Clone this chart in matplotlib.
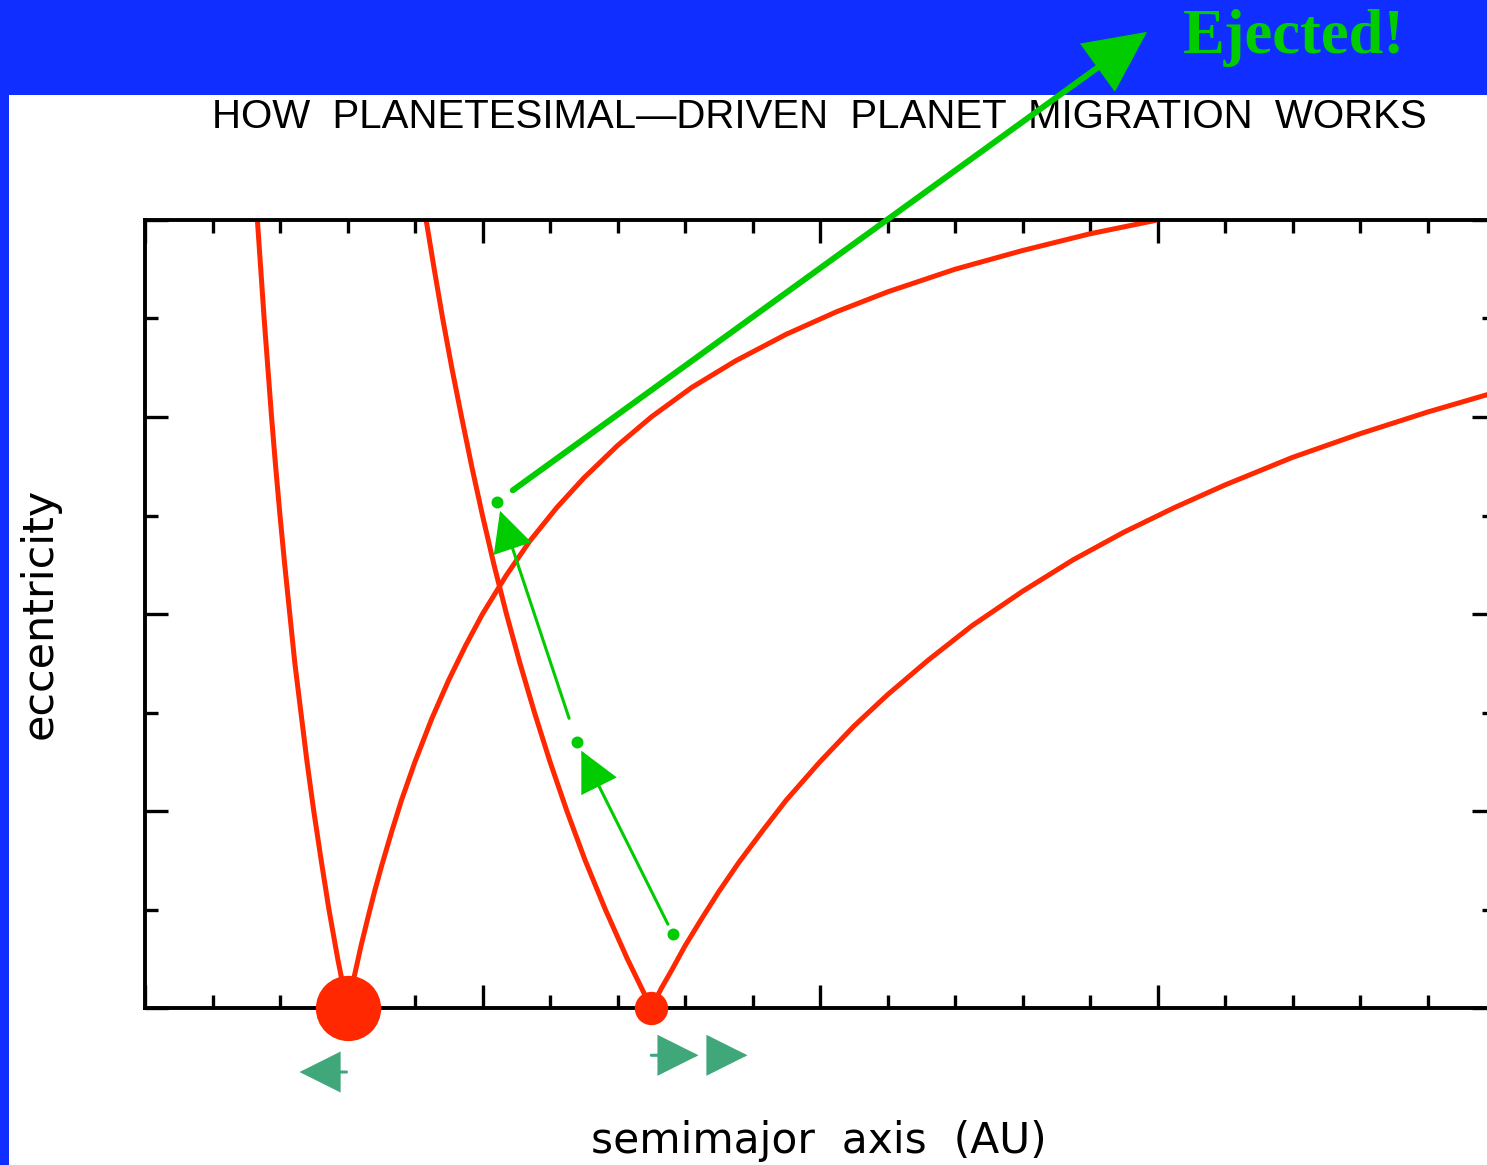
import numpy as np
import matplotlib
matplotlib.use("Agg")
import matplotlib.pyplot as plt
from matplotlib.patches import Rectangle

# semimajor axes of the two planets (plot units) and marker sizes
planet_a = [0.6, 1.5]
planet_ms = [47, 24]

# constant-aphelion / constant-perihelion curves
p1_in_e = [0.0, 0.05, 0.1, 0.15, 0.2, 0.25, 0.3, 0.35, 0.4,
           0.45, 0.5, 0.55, 0.6, 0.65, 0.7, 0.75, 0.8]
p1_in_a = [0.600, 0.571, 0.545, 0.522, 0.500, 0.480, 0.462, 0.444, 0.429,
           0.414, 0.400, 0.387, 0.375, 0.364, 0.353, 0.343, 0.333]
p1_out_a = [0.60, 0.61, 0.62, 0.64, 0.66, 0.68, 0.70, 0.73, 0.76, 0.80,
            0.85, 0.90, 0.95, 1.00, 1.07, 1.14, 1.22, 1.30, 1.40, 1.50,
            1.62, 1.75, 1.90, 2.05, 2.20, 2.40, 2.60, 2.80, 3.00]
p1_out_e = [0.0, 0.016, 0.032, 0.063, 0.091, 0.118, 0.143, 0.178, 0.211, 0.250,
            0.294, 0.333, 0.368, 0.400, 0.439, 0.474, 0.508, 0.538, 0.571, 0.600,
            0.630, 0.657, 0.684, 0.707, 0.727, 0.750, 0.769, 0.786, 0.800]
p2_in_e = [0.0, 0.05, 0.1, 0.15, 0.2, 0.25, 0.3, 0.35, 0.4,
           0.45, 0.5, 0.55, 0.6, 0.65, 0.7, 0.75, 0.8]
p2_in_a = [1.500, 1.429, 1.364, 1.304, 1.250, 1.200, 1.154, 1.111, 1.071,
           1.034, 1.000, 0.968, 0.938, 0.909, 0.882, 0.857, 0.833]
p2_out_a = [1.50, 1.53, 1.56, 1.60, 1.65, 1.70, 1.76, 1.83, 1.90, 2.00,
            2.10, 2.20, 2.32, 2.45, 2.60, 2.75, 2.90, 3.05, 3.20, 3.40,
            3.60, 3.80, 4.00]
p2_out_e = [0.0, 0.020, 0.038, 0.063, 0.091, 0.118, 0.148, 0.180, 0.211, 0.250,
            0.286, 0.318, 0.353, 0.388, 0.423, 0.455, 0.483, 0.508, 0.531, 0.559,
            0.583, 0.605, 0.625]

# planetesimal track and where it gets thrown to
track_a = [1.564, 1.280, 1.043]
track_e = [0.075, 0.270, 0.514]
eject_a, eject_e = 2.969, 0.991

title = "HOW  PLANETESIMAL\u2014DRIVEN  PLANET  MIGRATION  WORKS"

red = "#FF2800"
green = "#00CC00"
teal = "#3FA77A"
blue = "#0F2EFF"

W, H = 1487, 1165
fig = plt.figure(figsize=(W / 100, H / 100), dpi=100, facecolor=blue)
fig.patches.append(Rectangle((9 / W, 0), 1 - 9 / W, (H - 95) / H,
                             transform=fig.transFigure, facecolor="white",
                             edgecolor="none", zorder=-1))

ax = fig.add_axes([145 / W, (H - 1008) / H, 1350 / W, 788 / H])
ax.set_zorder(1)
ax.set_xlim(0, 4)
ax.set_ylim(0, 0.8)
ax.set_xticks(np.arange(0, 4.01, 1))
ax.set_xticks(np.arange(0, 4.01, 0.2), minor=True)
ax.set_yticks(np.arange(0, 0.81, 0.2))
ax.set_yticks(np.arange(0, 0.81, 0.1), minor=True)
ax.tick_params(which="both", direction="in", top=True, right=True,
               labelbottom=False, labelleft=False, width=2.4, color="black")
ax.tick_params(which="major", length=16.5)
ax.tick_params(which="minor", length=9.4)
for s in ax.spines.values():
    s.set_linewidth(2.8)

for xa, ye in [(p1_in_a, p1_in_e), (p1_out_a, p1_out_e),
               (p2_in_a, p2_in_e), (p2_out_a, p2_out_e)]:
    ax.plot(xa, ye, color=red, lw=3.6, solid_capstyle="butt",
            solid_joinstyle="round", zorder=2)

for a, ms in zip(planet_a, planet_ms):
    ax.plot([a], [0], marker="o", color=red, ms=ms, mec="none",
            clip_on=False, zorder=4)

# planetesimal dots and kicks
ax.plot(track_a, track_e, ls="none", marker="o", ms=8.6, color=green,
        mec="none", zorder=5)
thin = dict(arrowstyle="-|>,head_length=25,head_width=12.5", mutation_scale=1,
            color=green, lw=2.2, joinstyle="miter")
ax.annotate("", xy=(track_a[1], track_e[1]), xytext=(track_a[0], track_e[0]),
            arrowprops=dict(thin, shrinkA=8, shrinkB=7), zorder=5)
ax.annotate("", xy=(track_a[2], track_e[2]), xytext=(track_a[1], track_e[1]),
            arrowprops=dict(thin, shrinkA=18, shrinkB=7), zorder=5)
ax.annotate("", xy=(eject_a, eject_e), xytext=(track_a[2], track_e[2]),
            arrowprops=dict(arrowstyle="-|>,head_length=37,head_width=18",
                            mutation_scale=1, color=green, lw=4.3,
                            shrinkA=14, shrinkB=0, joinstyle="miter"),
            annotation_clip=False, zorder=6)

# migration direction markers under the planets
mig = dict(arrowstyle="-|>,head_length=26,head_width=13", mutation_scale=1,
           color=teal, lw=2.2, shrinkA=0, shrinkB=0, joinstyle="miter")
ax.annotate("", xy=(planet_a[0] - 0.142, -0.065), xytext=(planet_a[0] - 0.003, -0.065),
            arrowprops=mig, annotation_clip=False)
ax.annotate("", xy=(planet_a[1] + 0.14, -0.048), xytext=(planet_a[1], -0.048),
            arrowprops=mig, annotation_clip=False)
ax.annotate("", xy=(planet_a[1] + 0.285, -0.048), xytext=(planet_a[1] + 0.18, -0.048),
            arrowprops=mig, annotation_clip=False)

fig.text(819 / W, (H - 117) / H, title, ha="center", va="center", fontsize=29,
         family="Liberation Sans", zorder=0.5)
fig.text(1183 / W, (H - 53) / H, "Ejected!", ha="left", va="baseline",
         fontsize=45, color=green, fontweight="bold",
         family=["Liberation Serif", "DejaVu Serif"])
fig.text(40 / W, (H - 613) / H, "eccentricity", rotation=90, ha="center",
         va="center", fontsize=31, family="DejaVu Sans")
fig.text(819 / W, 12 / H, "semimajor  axis  (AU)", ha="center", va="baseline",
         fontsize=30.5, family="DejaVu Sans")

fig.savefig("out.png", dpi=100, facecolor=blue)
